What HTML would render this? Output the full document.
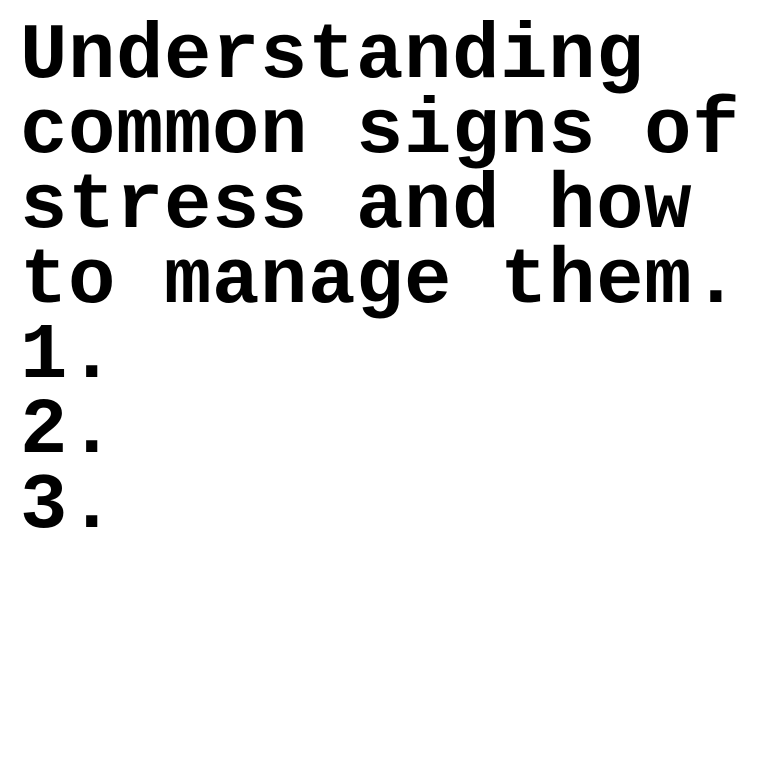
<!DOCTYPE html>
<html><head><meta charset="utf-8"><style>
html,body{margin:0;padding:0;background:#fff;width:760px;height:760px;overflow:hidden}
#t{position:absolute;left:20px;top:19px;font-family:"Liberation Mono",monospace;font-weight:bold;font-size:79px;letter-spacing:0.6px;line-height:75px;color:#000;white-space:pre;margin:0}
</style></head><body>
<div id="t">Understanding
common signs of
stress and how
to manage them.
1.
2.
3.</div>
</body></html>
